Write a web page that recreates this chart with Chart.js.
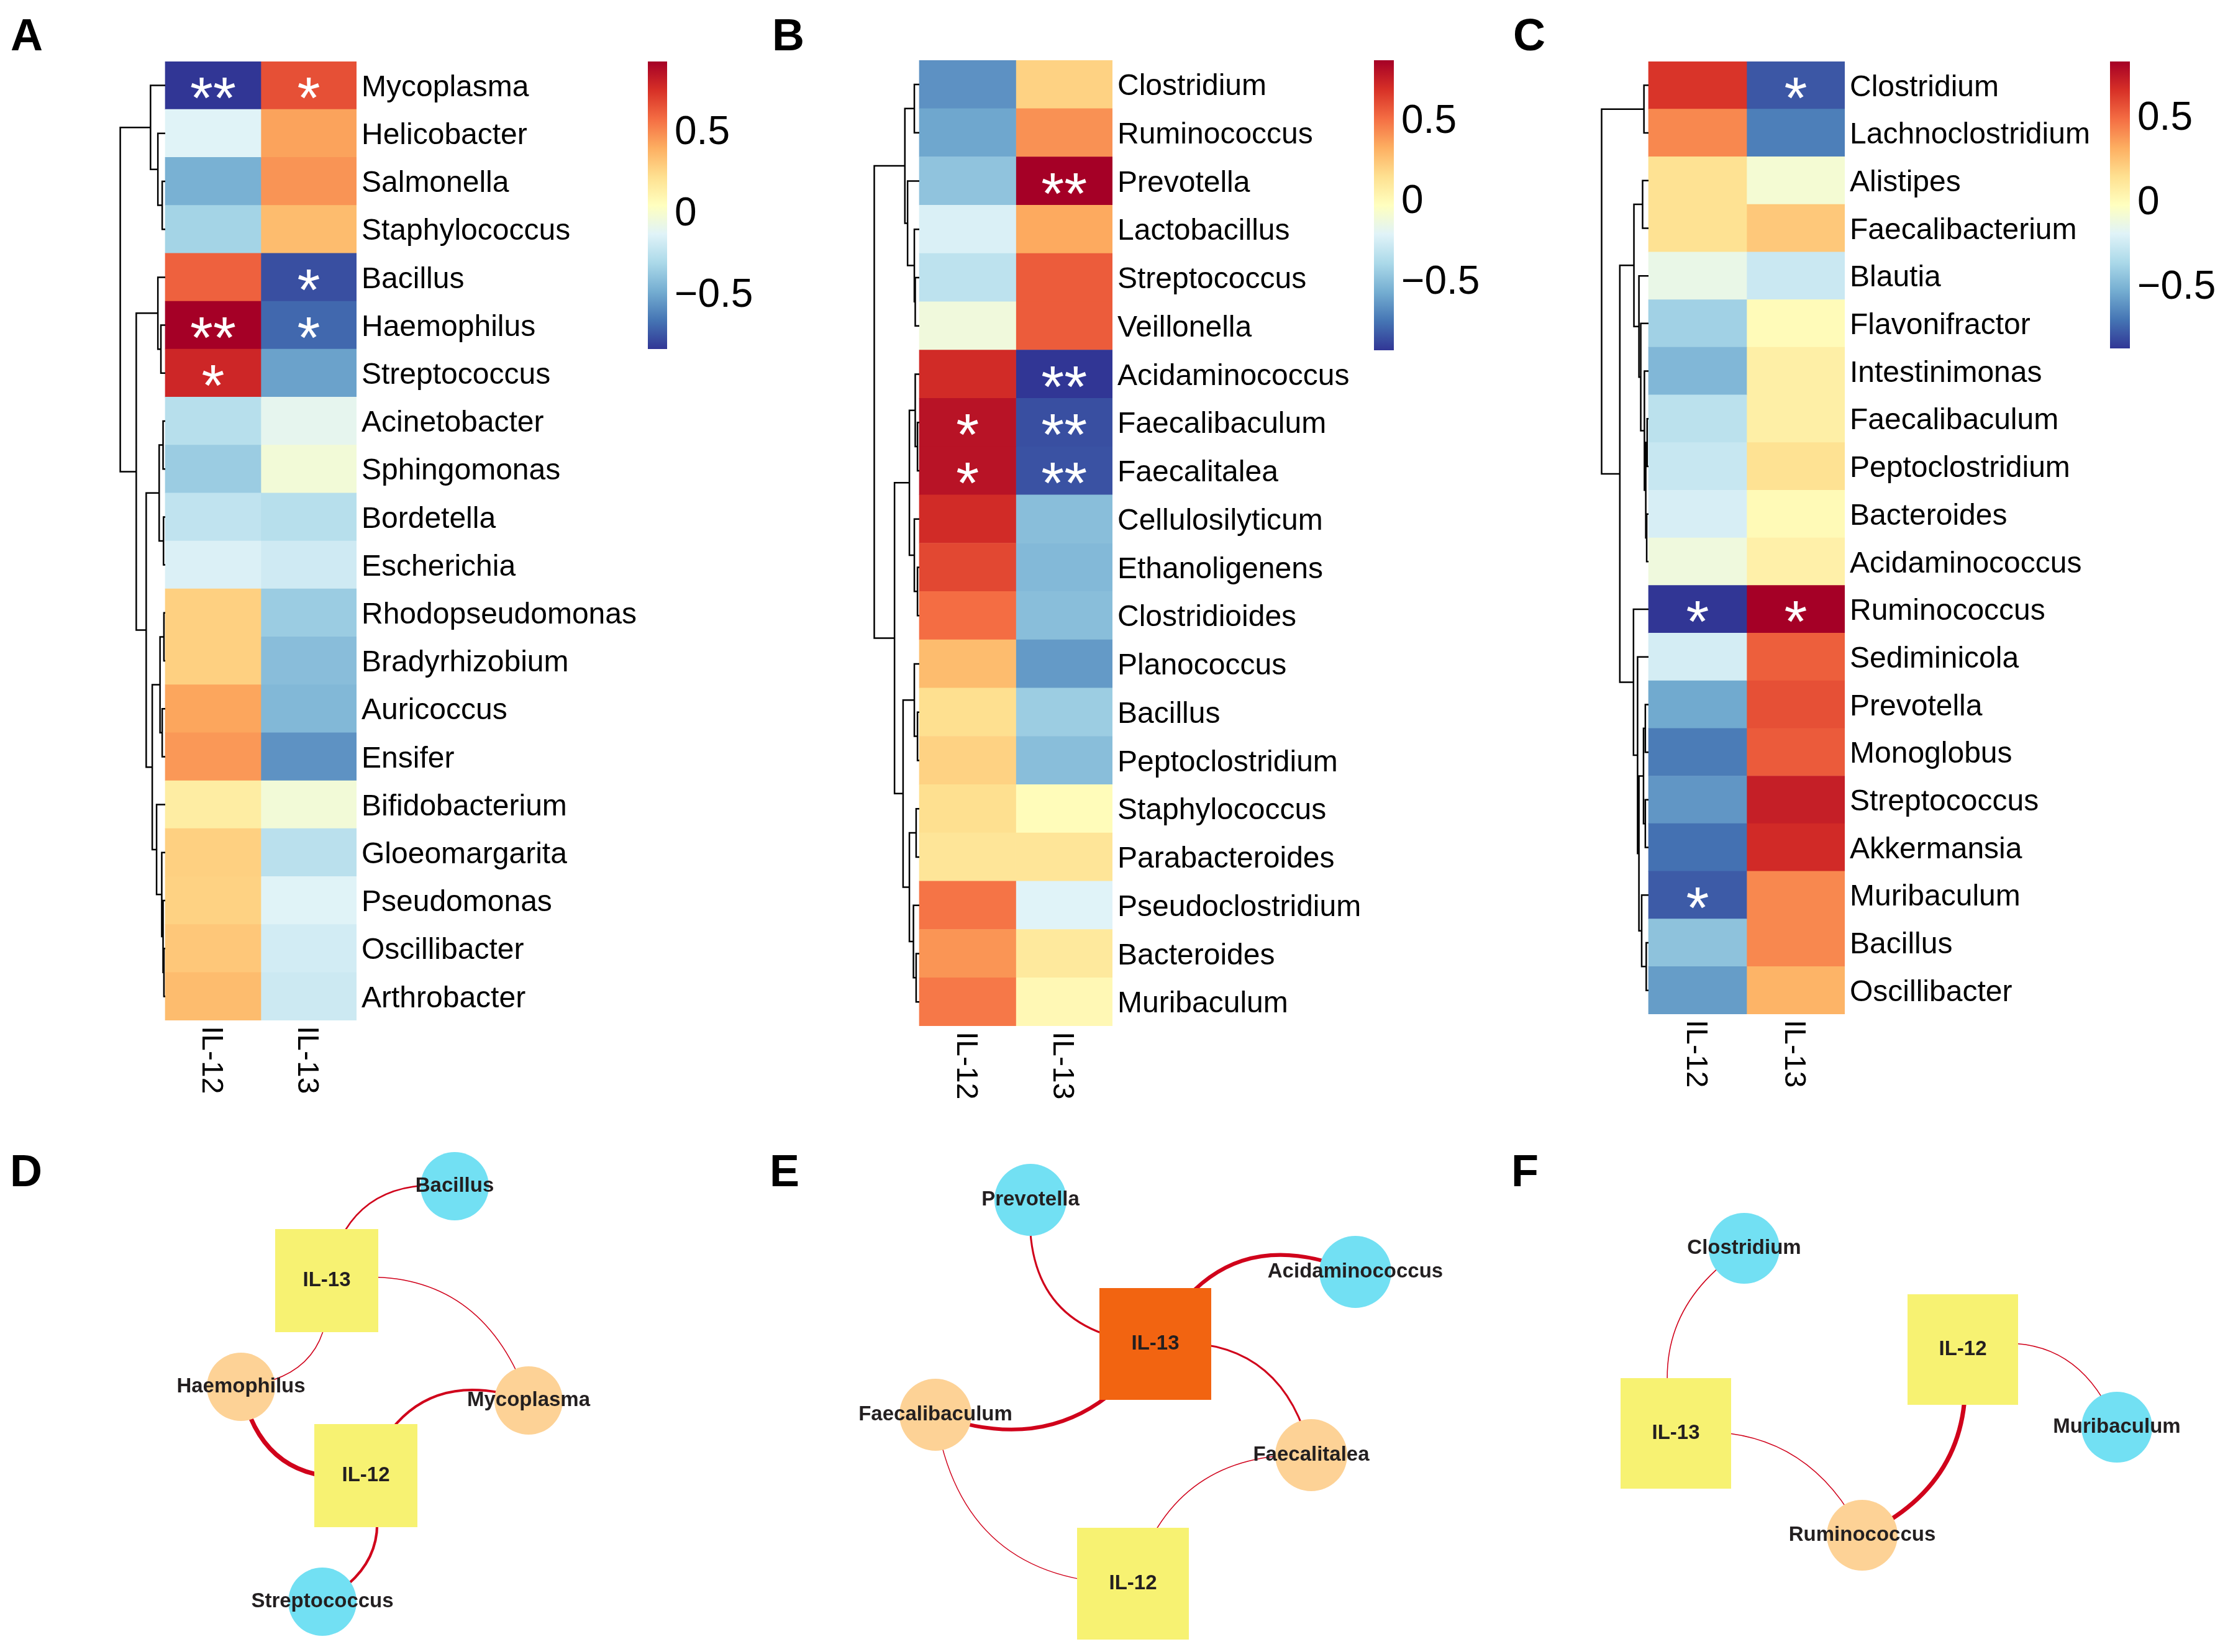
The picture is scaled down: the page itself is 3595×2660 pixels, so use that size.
<!DOCTYPE html>
<html>
<head>
<meta charset="utf-8">
<title>IL-12 / IL-13 correlation heatmaps and networks</title>
<script src="https://cdn.jsdelivr.net/npm/chart.js@4.4.1/dist/chart.umd.min.js"></script>
<style>
  body { margin: 0; background: #fff; }
  #page { position: relative; width: 3595px; height: 2660px; overflow: hidden; background: #fff; }
  #page canvas { position: absolute; }
  .tag { position: absolute; font: bold 72px 'Liberation Sans', Arial, sans-serif; line-height: 1; color: #000; }
</style>
</head>
<body>
<div id="page">
  <div class="tag" style="left:17px;top:20px">A</div>
  <div class="tag" style="left:1243px;top:20px">B</div>
  <div class="tag" style="left:2436px;top:20px">C</div>
  <div class="tag" style="left:16px;top:1849px">D</div>
  <div class="tag" style="left:1239px;top:1849px">E</div>
  <div class="tag" style="left:2433px;top:1849px">F</div>
</div>
<script>
// ---------- data ----------
const cytokines = ['IL-12', 'IL-13'];
const legendTicks = [-0.5, 0, 0.5];

// panel A
const generaA = ['Mycoplasma', 'Helicobacter', 'Salmonella', 'Staphylococcus', 'Bacillus', 'Haemophilus',
  'Streptococcus', 'Acinetobacter', 'Sphingomonas', 'Bordetella', 'Escherichia', 'Rhodopseudomonas',
  'Bradyrhizobium', 'Auricoccus', 'Ensifer', 'Bifidobacterium', 'Gloeomargarita', 'Pseudomonas',
  'Oscillibacter', 'Arthrobacter'];
const il12A = [-0.84, -0.13, -0.47, -0.33, 0.61, 0.93, 0.79, -0.27, -0.36, -0.24, -0.15, 0.28, 0.28, 0.42, 0.46, 0.15, 0.28, 0.27, 0.31, 0.35];
const il13A = [0.66, 0.43, 0.47, 0.35, -0.77, -0.70, -0.52, -0.10, -0.03, -0.27, -0.19, -0.36, -0.42, -0.44, -0.57, -0.03, -0.26, -0.13, -0.18, -0.20];
const starsA12 = ['**', '', '', '', '', '**', '*', '', '', '', '', '', '', '', '', '', '', '', '', ''];
const starsA13 = ['*', '', '', '', '*', '*', '', '', '', '', '', '', '', '', '', '', '', '', '', ''];
// hclust style merges: negative = row, positive = earlier merge, then height
const treeA = [[-19, -20, 3], [-18, 1, 5], [-17, 2, 8], [-16, 3, 20], [-12, -13, 3], [-14, -15, 7], [5, 6, 12],
  [7, 4, 30], [-8, -9, 5], [-10, -11, 4], [9, 10, 14], [11, 8, 44], [-6, -7, 10], [-5, 13, 17], [14, 12, 67],
  [-3, -4, 7], [-2, 16, 17], [-1, 17, 34], [18, 15, 104]];

// panel B
const generaB = ['Clostridium', 'Ruminococcus', 'Prevotella', 'Lactobacillus', 'Streptococcus', 'Veillonella',
  'Acidaminococcus', 'Faecalibaculum', 'Faecalitalea', 'Cellulosilyticum', 'Ethanoligenens', 'Clostridioides',
  'Planococcus', 'Bacillus', 'Peptoclostridium', 'Staphylococcus', 'Parabacteroides', 'Pseudoclostridium',
  'Bacteroides', 'Muribaculum'];
const il12B = [-0.66, -0.59, -0.48, -0.23, -0.33, -0.12, 0.71, 0.80, 0.80, 0.71, 0.62, 0.51, 0.28, 0.15, 0.20, 0.15, 0.12, 0.49, 0.40, 0.48];
const il13B = [0.20, 0.41, 0.87, 0.34, 0.56, 0.56, -0.93, -0.86, -0.85, -0.50, -0.52, -0.50, -0.63, -0.44, -0.50, -0.01, 0.12, -0.21, 0.10, 0.01];
const starsB12 = ['', '', '', '', '', '', '', '*', '*', '', '', '', '', '', '', '', '', '', '', ''];
const starsB13 = ['', '', '**', '', '', '', '**', '**', '**', '', '', '', '', '', '', '', '', '', '', ''];
const treeB = [[-1, -2, 11], [-5, -6, 9], [-4, 2, 11], [-3, 3, 26], [1, 4, 32], [-8, -9, 4], [-7, 6, 9],
  [-11, -12, 4], [-10, 8, 11], [7, 9, 22], [-14, -15, 4], [-13, 11, 11], [-16, -17, 7], [-19, -20, 7],
  [-18, 14, 13], [13, 15, 22], [12, 16, 36], [10, 17, 55], [5, 18, 100]];

// panel C
const generaC = ['Clostridium', 'Lachnoclostridium', 'Alistipes', 'Faecalibacterium', 'Blautia', 'Flavonifractor',
  'Intestinimonas', 'Faecalibaculum', 'Peptoclostridium', 'Bacteroides', 'Acidaminococcus', 'Ruminococcus',
  'Sediminicola', 'Prevotella', 'Monoglobus', 'Streptococcus', 'Akkermansia', 'Muribaculum', 'Bacillus',
  'Oscillibacter'];
const il12C = [0.65, 0.42, 0.14, 0.14, -0.14, -0.39, -0.49, -0.31, -0.27, -0.22, -0.11, -0.87, -0.23, -0.54, -0.68, -0.60, -0.71, -0.77, -0.45, -0.58];
const il13C = [-0.78, -0.67, -0.08, 0.23, -0.26, 0.00, 0.07, 0.07, 0.14, 0.01, 0.06, 0.83, 0.53, 0.57, 0.54, 0.72, 0.68, 0.42, 0.42, 0.30];
const starsC12 = ['', '', '', '', '', '', '', '', '', '', '', '*', '', '', '', '', '', '*', '', ''];
const starsC13 = ['*', '', '', '', '', '', '', '', '', '', '', '*', '', '', '', '', '', '', '', ''];
const treeC = [[-1, -2, 10], [-3, -4, 13], [-10, -11, 4], [-8, -9, 3], [4, 3, 6], [-7, 5, 9], [-6, 6, 17],
  [-5, 7, 21], [2, 8, 32], [-14, -15, 7], [-16, -17, 7], [10, 11, 11], [-19, -20, 5], [-18, 13, 15],
  [12, 14, 21], [-13, 15, 24], [-12, 16, 33], [9, 17, 63], [1, 18, 103]];

// network D
const netDNames = ['IL-13', 'IL-12', 'Bacillus', 'Haemophilus', 'Mycoplasma', 'Streptococcus'];
const netDX = [526, 589, 732, 388, 851, 519];
const netDY = [272, 586, 120, 443, 465, 789];
const netDKind = ['cytokine', 'cytokine', 'cyan', 'peach', 'peach', 'cyan'];
const netDEdges = [[0, 2], [0, 4], [0, 3], [3, 1], [1, 4], [1, 5]];
const netDWeight = [2.5, 1.5, 1.5, 7, 4, 4];

// network E
const netENames = ['IL-13', 'IL-12', 'Prevotella', 'Acidaminococcus', 'Faecalibaculum', 'Faecalitalea'];
const netEX = [680, 644, 479, 1002, 326, 931];
const netEY = [374, 760, 142, 258, 488, 553];
const netEKind = ['hub', 'cytokine', 'cyan', 'cyan', 'peach', 'peach'];
const netEEdges = [[0, 2], [0, 3], [0, 5], [0, 4], [4, 1], [5, 1]];
const netEWeight = [3, 6, 3, 6, 1.5, 1.5];

// network F
const netFNames = ['IL-13', 'IL-12', 'Clostridium', 'Muribaculum', 'Ruminococcus'];
const netFX = [298, 760, 408, 1008, 598];
const netFY = [518, 383, 220, 508, 682];
const netFKind = ['cytokine', 'cytokine', 'cyan', 'cyan', 'peach'];
const netFEdges = [[0, 2], [0, 4], [1, 4], [1, 3]];
const netFWeight = [1.5, 1.5, 7, 1.5];

// ---------- styles / placement ----------
const FONT = "'Liberation Sans', Arial, sans-serif";
const PALETTE = ['#313695', '#4575b4', '#74add1', '#abd9e9', '#e0f3f8', '#ffffbf', '#fee090', '#fdae61', '#f46d43', '#d73027', '#a50026'];
const NODE_COLORS = { cytokine: '#f7f272', hub: '#f26411', cyan: '#72e0f3', peach: '#fdd296' };
const EDGE_COLOR = '#d0021b';

const geomA = { left: 266, top: 99, colW: 154, rowH: 77.2, dendroW: 72.4 };
const geomB = { left: 1480, top: 97, colW: 155.5, rowH: 77.75, dendroW: 72.5 };
const geomC = { left: 2654, top: 99, colW: 158, rowH: 76.7, dendroW: 75.5 };
const legA = { left: 1043, top: 99, w: 31, h: 463 };
const legB = { left: 2212, top: 97, w: 32, h: 467 };
const legC = { left: 3397, top: 99, w: 32, h: 462 };
const bendD = [-0.46, -0.42, -0.5, 0.46, -0.48, -0.46];
const bendE = [-0.5, -0.46, -0.44, -0.39, 0.43, 0.39];
const bendF = [-0.37, -0.35, -0.37, -0.44];

Chart.defaults.font.family = FONT;

function addCanvas(left, top, w, h) {
  const c = document.createElement('canvas');
  c.width = Math.round(w);
  c.height = Math.round(h);
  c.style.left = Math.round(left) + 'px';
  c.style.top = Math.round(top) + 'px';
  document.getElementById('page').appendChild(c);
  return c;
}

function hexRgb(h) {
  const n = parseInt(h.slice(1), 16);
  return [(n >> 16) & 255, (n >> 8) & 255, n & 255];
}

function heatColor(v, range) {
  const t = Math.min(1, Math.max(0, (v - range[0]) / (range[1] - range[0]))) * (PALETTE.length - 1);
  const i = Math.min(Math.floor(t), PALETTE.length - 2);
  const f = t - i;
  const a = hexRgb(PALETTE[i]), b = hexRgb(PALETTE[i + 1]);
  return 'rgb(' + a.map((c, k) => Math.round(c + (b[k] - c) * f)).join(',') + ')';
}

// turn merge list into elbow segments (x = -height, y = row position)
function dendroPoints(tree, width) {
  const top = tree[tree.length - 1][2];
  const pos = [], hgt = [], pts = [];
  const at = id => id < 0 ? [-id - 1, 0] : [pos[id - 1], hgt[id - 1]];
  const hx = h => -h / top * width;
  tree.forEach(([a, b, h], k) => {
    const [ya, ha] = at(a), [yb, hb] = at(b);
    pts.push({ x: hx(ha), y: ya }, { x: hx(h), y: ya }, { x: hx(h), y: yb }, { x: hx(hb), y: yb }, { x: null, y: null });
    pos[k] = (ya + yb) / 2;
    hgt[k] = h;
  });
  return pts;
}

function starPlugin(marks) {
  return {
    id: 'stars',
    afterDatasetsDraw(chart) {
      const ctx = chart.ctx, size = 95;
      ctx.save();
      ctx.fillStyle = '#fff';
      ctx.font = size + 'px ' + FONT;
      ctx.textAlign = 'center';
      ctx.textBaseline = 'alphabetic';
      marks.forEach((col, d) => {
        chart.getDatasetMeta(d).data.forEach((bar, i) => {
          if (!col[i]) return;
          const p = bar.getProps(['x', 'base', 'y'], true);
          ctx.fillText(col[i], (p.x + p.base) / 2, p.y + size * 0.55);
        });
      });
      ctx.restore();
    }
  };
}

function columnLabelPlugin(cols) {
  return {
    id: 'colLabels',
    afterDraw(chart) {
      const { ctx, chartArea } = chart;
      const xs = chart.scales.x, size = 48;
      ctx.save();
      ctx.fillStyle = '#000';
      ctx.font = size + 'px ' + FONT;
      ctx.textAlign = 'left';
      ctx.textBaseline = 'alphabetic';
      cols.forEach((c, i) => {
        ctx.save();
        ctx.translate(xs.getPixelForValue(i + 0.5), chartArea.bottom + 9);
        ctx.rotate(Math.PI / 2);
        ctx.fillText(c, 0, size * 0.358);
        ctx.restore();
      });
      ctx.restore();
    }
  };
}

function drawHeatmap(g, genera, v12, v13, s12, s13, tree) {
  const labelW = 480, foot = 130;
  const range = [Math.min(...v12, ...v13), Math.max(...v12, ...v13)];
  const chartLeft = Math.round(g.left - g.dendroW - 4);
  const areaW = Math.round(g.left + 2 * g.colW - chartLeft);
  const areaH = Math.round(genera.length * g.rowH);
  const xMin = 2 - areaW / g.colW;
  const canvas = addCanvas(chartLeft, g.top, areaW + labelW, areaH + foot);
  const cells = col => genera.map((_, i) => ({ y: i, x: [col, col + 1] }));

  new Chart(canvas, {
    type: 'bar',
    data: {
      datasets: [
        { label: cytokines[0], data: cells(0), backgroundColor: v12.map(v => heatColor(v, range)), order: 1 },
        { label: cytokines[1], data: cells(1), backgroundColor: v13.map(v => heatColor(v, range)), order: 1 },
        { type: 'line', data: dendroPoints(tree, g.dendroW / g.colW), borderColor: '#000', borderWidth: 2.5,
          pointRadius: 0, fill: false, tension: 0, spanGaps: false, order: 0 }
      ]
    },
    options: {
      indexAxis: 'y',
      responsive: false,
      animation: false,
      devicePixelRatio: 1,
      layout: { autoPadding: false, padding: { left: 0, right: 0, top: 0, bottom: foot } },
      plugins: { legend: { display: false }, tooltip: { enabled: false } },
      datasets: { bar: { grouped: false, barPercentage: 1, categoryPercentage: 1, borderWidth: 0 } },
      scales: {
        x: { type: 'linear', min: xMin, max: 2, display: false },
        y: {
          type: 'linear', position: 'right', reverse: true, offset: false,
          min: -0.5, max: genera.length - 0.5,
          grid: { display: false, drawTicks: false },
          border: { display: false },
          afterBuildTicks: s => { s.ticks = genera.map((_, i) => ({ value: i })); },
          afterFit: s => { s.width = labelW; s.paddingTop = 0; s.paddingBottom = 0; },
          ticks: { autoSkip: false, padding: 8, labelOffset: 4, color: '#000', font: { family: FONT, size: 48 },
            callback: v => genera[v] }
        }
      }
    },
    plugins: [starPlugin([s12, s13]), columnLabelPlugin(cytokines)]
  });
  return range;
}

function legendFill(chart, range) {
  const { chartArea, scales } = chart;
  if (!chartArea) return PALETTE[5];
  const y = scales.y;
  const grad = chart.ctx.createLinearGradient(0, y.getPixelForValue(range[0]), 0, y.getPixelForValue(range[1]));
  PALETTE.forEach((c, i) => grad.addColorStop(i / (PALETTE.length - 1), c));
  return grad;
}

function drawLegend(g, range) {
  const canvas = addCanvas(g.left, g.top, g.w + 200, g.h);
  new Chart(canvas, {
    type: 'bar',
    data: {
      labels: [''],
      datasets: [{ data: [range], backgroundColor: ctx => legendFill(ctx.chart, range), borderWidth: 0,
        barPercentage: 1, categoryPercentage: 1 }]
    },
    options: {
      responsive: false,
      animation: false,
      devicePixelRatio: 1,
      layout: { autoPadding: false, padding: 0 },
      plugins: { legend: { display: false }, tooltip: { enabled: false } },
      scales: {
        x: { display: false },
        y: {
          min: range[0], max: range[1], position: 'right',
          grid: { display: false, drawTicks: false },
          border: { display: false },
          afterBuildTicks: s => { s.ticks = legendTicks.map(v => ({ value: v })); },
          afterFit: s => { s.width = 200; s.paddingTop = 0; s.paddingBottom = 0; },
          ticks: { padding: 12, labelOffset: 3, color: '#000', font: { family: FONT, size: 64 },
            callback: v => v < 0 ? '\u2212' + Math.abs(v) : String(v) }
        }
      }
    }
  });
}

function edgePlugin(xs, ys, edges, weights, bends) {
  return {
    id: 'edges',
    beforeDatasetsDraw(chart) {
      const { ctx, scales } = chart;
      ctx.save();
      ctx.strokeStyle = EDGE_COLOR;
      edges.forEach(([a, b], k) => {
        const x1 = scales.x.getPixelForValue(xs[a]), y1 = scales.y.getPixelForValue(ys[a]);
        const x2 = scales.x.getPixelForValue(xs[b]), y2 = scales.y.getPixelForValue(ys[b]);
        const cx = (x1 + x2) / 2 - bends[k] * (y2 - y1);
        const cy = (y1 + y2) / 2 + bends[k] * (x2 - x1);
        ctx.lineWidth = weights[k];
        ctx.beginPath();
        ctx.moveTo(x1, y1);
        ctx.quadraticCurveTo(cx, cy, x2, y2);
        ctx.stroke();
      });
      ctx.restore();
    }
  };
}

function nodeLabelPlugin(names) {
  return {
    id: 'nodeLabels',
    afterDatasetsDraw(chart) {
      const ctx = chart.ctx;
      ctx.save();
      ctx.fillStyle = '#231f20';
      ctx.font = 'bold 33px ' + FONT;
      ctx.textAlign = 'center';
      ctx.textBaseline = 'middle';
      chart.getDatasetMeta(0).data.forEach((pt, i) => {
        ctx.fillText(names[i], pt.x, pt.y);
      });
      ctx.restore();
    }
  };
}

function drawNetwork(box, names, xs, ys, kinds, edges, weights, bends) {
  const canvas = addCanvas(box.left, box.top, box.w, box.h);
  const square = k => k === 'cytokine' || k === 'hub';
  new Chart(canvas, {
    type: 'scatter',
    data: {
      datasets: [{
        data: names.map((_, i) => ({ x: xs[i], y: ys[i] })),
        pointStyle: kinds.map(k => square(k) ? 'rect' : 'circle'),
        pointRadius: kinds.map(k => square(k) ? box.side / Math.SQRT2 : box.r),
        pointHoverRadius: kinds.map(k => square(k) ? box.side / Math.SQRT2 : box.r),
        pointBackgroundColor: kinds.map(k => NODE_COLORS[k]),
        pointBorderWidth: 0,
        clip: false
      }]
    },
    options: {
      responsive: false,
      animation: false,
      devicePixelRatio: 1,
      layout: { autoPadding: false, padding: 0 },
      events: [],
      plugins: { legend: { display: false }, tooltip: { enabled: false } },
      scales: {
        x: { type: 'linear', min: 0, max: box.w, display: false },
        y: { type: 'linear', min: 0, max: box.h, reverse: true, display: false }
      }
    },
    plugins: [edgePlugin(xs, ys, edges, weights, bends), nodeLabelPlugin(names)]
  });
}

const rangeA = drawHeatmap(geomA, generaA, il12A, il13A, starsA12, starsA13, treeA);
const rangeB = drawHeatmap(geomB, generaB, il12B, il13B, starsB12, starsB13, treeB);
const rangeC = drawHeatmap(geomC, generaC, il12C, il13C, starsC12, starsC13, treeC);
drawLegend(legA, rangeA);
drawLegend(legB, rangeB);
drawLegend(legC, rangeC);

drawNetwork({ left: 0, top: 1790, w: 1180, h: 870, side: 166, r: 55 }, netDNames, netDX, netDY, netDKind, netDEdges, netDWeight, bendD);
drawNetwork({ left: 1180, top: 1790, w: 1220, h: 870, side: 180, r: 58 }, netENames, netEX, netEY, netEKind, netEEdges, netEWeight, bendE);
drawNetwork({ left: 2400, top: 1790, w: 1195, h: 870, side: 178, r: 57 }, netFNames, netFX, netFY, netFKind, netFEdges, netFWeight, bendF);
</script>
</body>
</html>
